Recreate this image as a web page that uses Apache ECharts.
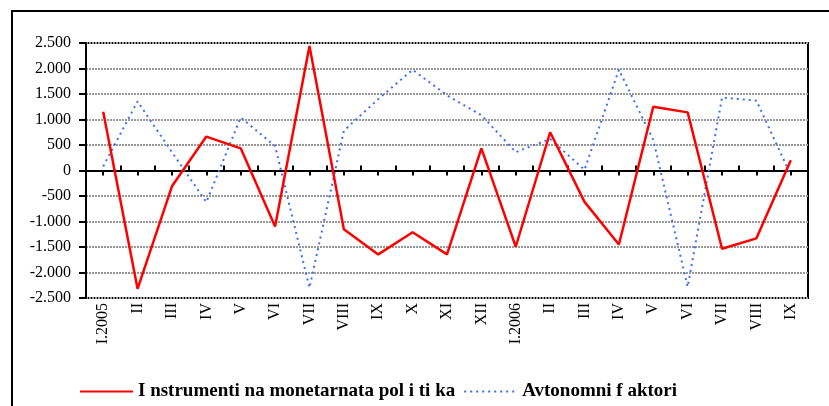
<!DOCTYPE html>
<html>
<head>
<meta charset="utf-8">
<script src="https://cdn.jsdelivr.net/npm/echarts@6/dist/echarts.min.js"></script>
<style>
  html, body { margin: 0; padding: 0; background: #fff; }
  #chart { width: 829px; height: 406px; }
</style>
</head>
<body>
<div id="chart"></div>
<script>
const months = ['I.2005', 'II', 'III', 'IV', 'V', 'VI', 'VII', 'VIII', 'IX', 'X', 'XI', 'XII',
  'I.2006', 'II', 'III', 'IV', 'V', 'VI', 'VII', 'VIII', 'IX'];

// Instrumenti na monetarnata politika
const instrumenti = [1150, -2320, -310, 665, 435, -1100, 2440, -1150, -1645, -1210, -1645, 435,
  -1495, 750, -615, -1450, 1250, 1140, -1535, -1330, 200];

// Avtonomni faktori
const avtonomni = [80, 1355, 360, -620, 1040, 480, -2300, 780, 1400, 1975, 1475, 1085,
  360, 620, 15, 1975, 600, -2280, 1430, 1370, -90];

const yTicks = { min: -2500, max: 2500, step: 500 };

const fmt = v => {
  const s = Math.abs(v) >= 1000
    ? Math.floor(Math.abs(v) / 1000) + '.' + String(Math.abs(v) % 1000).padStart(3, '0')
    : String(Math.abs(v));
  return (v < 0 ? '-' : '') + s;
};

const chart = echarts.init(document.getElementById('chart'));

const option = {
  animation: false,
  graphic: [{
    type: 'rect',
    shape: { x: 12, y: 11, width: 840, height: 430 },
    style: { fill: 'none', stroke: '#000', lineWidth: 2 },
    silent: true
  }],
  grid: {
    left: 86, right: 21, top: 43, bottom: 108,
    show: true, borderColor: '#000', borderWidth: 2
  },
  legend: {
    left: 74, top: 377,
    itemWidth: 53, itemHeight: 14, itemGap: 8,
    itemStyle: { opacity: 0 },
    textStyle: { fontFamily: 'Liberation Serif', fontWeight: 'bold', fontSize: 19, color: '#000' },
    data: ['I nstrumenti na monetarnata pol i ti ka', 'Avtonomni f aktori']
  },
  xAxis: [
    {
      type: 'category', data: months, boundaryGap: true,
      axisLine: { onZero: false, show: false },
      axisTick: { show: false },
      axisLabel: {
        rotate: 90, margin: 5, interval: 0,
        fontFamily: 'Liberation Serif', fontSize: 16, color: '#000'
      }
    },
    {
      type: 'category', data: months, boundaryGap: true,
      axisLine: { onZero: true, onZeroAxisIndex: 0, lineStyle: { color: '#000', width: 2 } },
      axisTick: { show: true, interval: 0, inside: false, length: 5, lineStyle: { color: '#000', width: 2 } },
      axisLabel: { show: false }
    },
    {
      type: 'category', data: months, boundaryGap: true,
      axisLine: { onZero: true, onZeroAxisIndex: 1, lineStyle: { color: '#000', width: 2 } },
      axisTick: { show: true, interval: 0, inside: true, alignWithLabel: true, length: 5, lineStyle: { color: '#000', width: 2 } },
      axisLabel: { show: false }
    }
  ],
  yAxis: [
    {
      type: 'value', min: yTicks.min, max: yTicks.max, interval: yTicks.step,
      axisLine: { show: true, lineStyle: { color: '#000', width: 2 } },
      axisTick: { show: true, length: 7, lineStyle: { color: '#000', width: 2 } },
      axisLabel: {
        margin: 15, formatter: fmt,
        fontFamily: 'Liberation Serif', fontSize: 16, color: '#000'
      },
      splitLine: { show: true, lineStyle: { color: '#999', width: 2, type: [2, 1] } }
    },
    {
      type: 'value', min: yTicks.min, max: yTicks.max, interval: yTicks.step, show: false
    }
  ],
  series: [
    {
      name: 'I nstrumenti na monetarnata pol i ti ka',
      type: 'line', data: instrumenti, symbol: 'none', z: 5,
      itemStyle: { color: '#ff0000' },
      lineStyle: { color: '#ff0000', width: 2.5 }
    },
    {
      name: 'Avtonomni f aktori',
      type: 'line', data: avtonomni, symbol: 'none', z: 3,
      itemStyle: { color: '#3d6ff5' },
      lineStyle: { color: '#3d6ff5', width: 2, type: [2, 4] }
    }
  ]
};

chart.setOption(option);
</script>
</body>
</html>
